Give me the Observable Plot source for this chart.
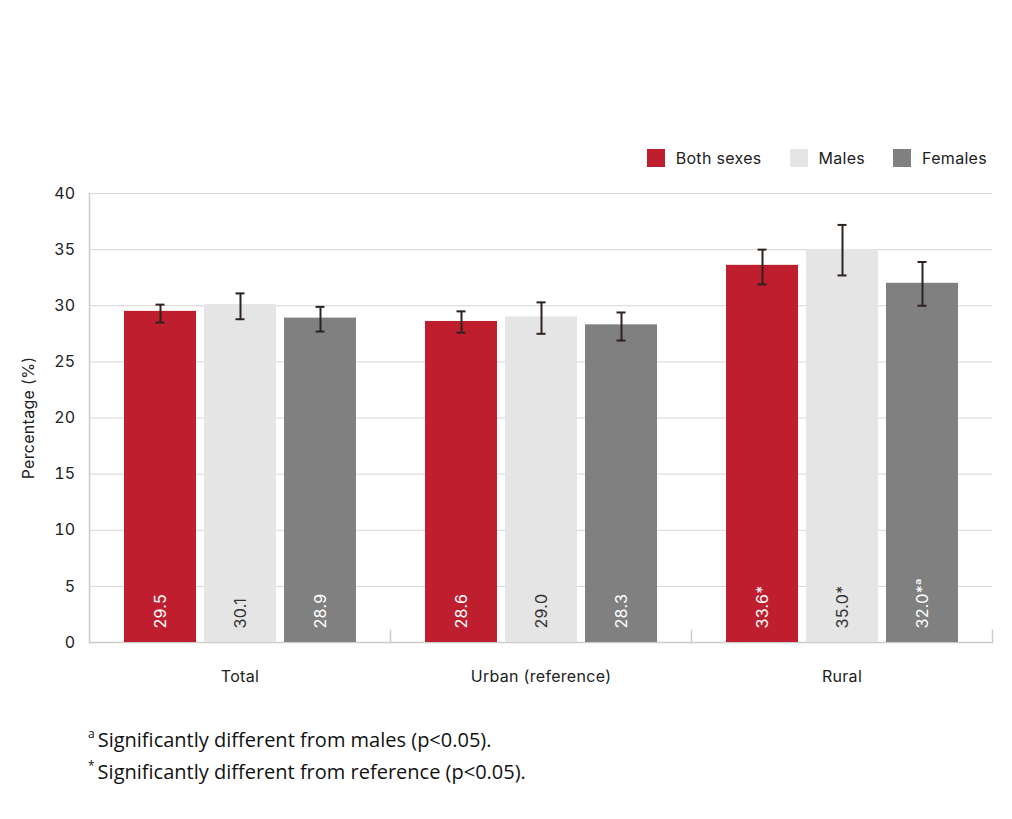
<!DOCTYPE html>
<html><head><meta charset="utf-8">
<script src="https://cdn.jsdelivr.net/npm/d3@7"></script>
<script src="https://cdn.jsdelivr.net/npm/@observablehq/plot@0.6"></script>
<style>
body{margin:0;background:#fff;width:1012px;height:819px;position:relative;overflow:hidden;font-family:Inter,sans-serif;}
#legend{position:absolute;top:148px;right:25px;display:flex;align-items:center;font-size:16px;letter-spacing:0.3px;color:#222;font-family:Inter,sans-serif;}
#legend .item{display:flex;align-items:center;margin-left:28px;}
#legend .sw{width:18px;height:18px;margin-right:11px;}
#chart{position:absolute;top:180px;left:0;}
#chart svg text{letter-spacing:0.3px;}
#notes{position:absolute;left:88px;top:725px;font-family:"Open Sans",sans-serif;font-size:20px;line-height:29px;color:#111;}
#notes .sup{position:relative;top:-9px;font-size:12px;margin-right:3px;}
</style></head><body>
<div id="legend"></div>
<div id="chart"></div>
<div id="notes">
<div><span class="sup">a</span>Significantly different from males (p&lt;0.05).</div>
<div><span class="sup">*</span>Significantly different from reference (p&lt;0.05).</div>
</div>
<script>
const groups = ["Total", "Urban (reference)", "Rural"];
const sexes = ["Both sexes", "Males", "Females"];
const colors = ["#be1e2d", "#e5e5e5", "#808080"];
const bothValues = [29.5, 28.6, 33.6];
const maleValues = [30.1, 29.0, 35.0];
const femaleValues = [28.9, 28.3, 32.0];
const bothLow = [28.5, 27.6, 31.9];
const bothHigh = [30.1, 29.5, 35.0];
const maleLow = [28.8, 27.5, 32.7];
const maleHigh = [31.1, 30.3, 37.2];
const femaleLow = [27.7, 26.9, 30.0];
const femaleHigh = [29.9, 29.4, 33.9];
const bothFlags = ["", "", "*"];
const maleFlags = ["", "", "*"];
const femaleFlags = ["", "", "*ᵃ"];
const yTicks = [0, 5, 10, 15, 20, 25, 30, 35, 40];

const series = [
  [bothValues, bothLow, bothHigh, bothFlags],
  [maleValues, maleLow, maleHigh, maleFlags],
  [femaleValues, femaleLow, femaleHigh, femaleFlags]
];
const data = [];
groups.forEach((g, gi) => {
  sexes.forEach((s, si) => {
    const [v, lo, hi, fl] = series[si];
    data.push({group: g, sex: s, value: v[gi], lo: lo[gi], hi: hi[gi], label: v[gi].toFixed(1) + fl[gi]});
  });
});

// legend
const legend = d3.select("#legend");
sexes.forEach((s, i) => {
  const it = legend.append("div").attr("class", "item");
  it.append("div").attr("class", "sw").style("background", colors[i]);
  it.append("span").text(s);
});

const font = "Inter, sans-serif";
const plot = Plot.plot({
  width: 1012,
  height: 512,
  marginLeft: 89,
  marginRight: 20,
  marginTop: 13,
  marginBottom: 50,
  style: {fontFamily: font, fontSize: "16px", color: "#222", background: "transparent"},
  fx: {domain: groups, padding: 0, label: null},
  x: {domain: sexes, paddingInner: 0.1, paddingOuter: 0.431, axis: null},
  y: {domain: [0, 40], label: null},
  color: {domain: sexes, range: colors},
  marks: [
    Plot.gridY(yTicks, {stroke: "#d6d6d6", strokeOpacity: 1}),
    Plot.axisY(yTicks, {tickSize: 0, tickPadding: 14, label: "Percentage (%)", labelAnchor: "center", labelOffset: 67, labelArrow: "none", fontSize: 16}),
    Plot.ruleY([0], {stroke: "#cccccc", strokeWidth: 1.5}),
    Plot.frame({anchor: "left", stroke: "#cccccc", strokeWidth: 1.5, facetAnchor: "left"}),
    Plot.frame({anchor: "right", stroke: "#cccccc", strokeWidth: 1.5, insetTop: 437}),
    Plot.axisFx({anchor: "bottom", tickSize: 0, tickPadding: 28, label: null, fontSize: 16}),
    Plot.barY(data, {fx: "group", x: "sex", y: "value", fill: "sex"}),
    Plot.ruleX(data, {fx: "group", x: "sex", y1: "lo", y2: "hi", stroke: "#2d221d", strokeWidth: 2}),
    Plot.tickY(data, {fx: "group", x: "sex", y: "lo", stroke: "#2d221d", strokeWidth: 2, insetLeft: 31.5, insetRight: 31.5}),
    Plot.tickY(data, {fx: "group", x: "sex", y: "hi", stroke: "#2d221d", strokeWidth: 2, insetLeft: 31.5, insetRight: 31.5}),
    Plot.text(data, {filter: d => d.sex !== "Males", fx: "group", x: "sex", y: 0, text: "label", rotate: -90, textAnchor: "start", dy: -14, fill: "white", fontSize: 16}),
    Plot.text(data, {filter: d => d.sex === "Males", fx: "group", x: "sex", y: 0, text: "label", rotate: -90, textAnchor: "start", dy: -14, fill: "#333", fontSize: 16})
  ]
});
document.getElementById("chart").appendChild(plot);
</script>
</body></html>
